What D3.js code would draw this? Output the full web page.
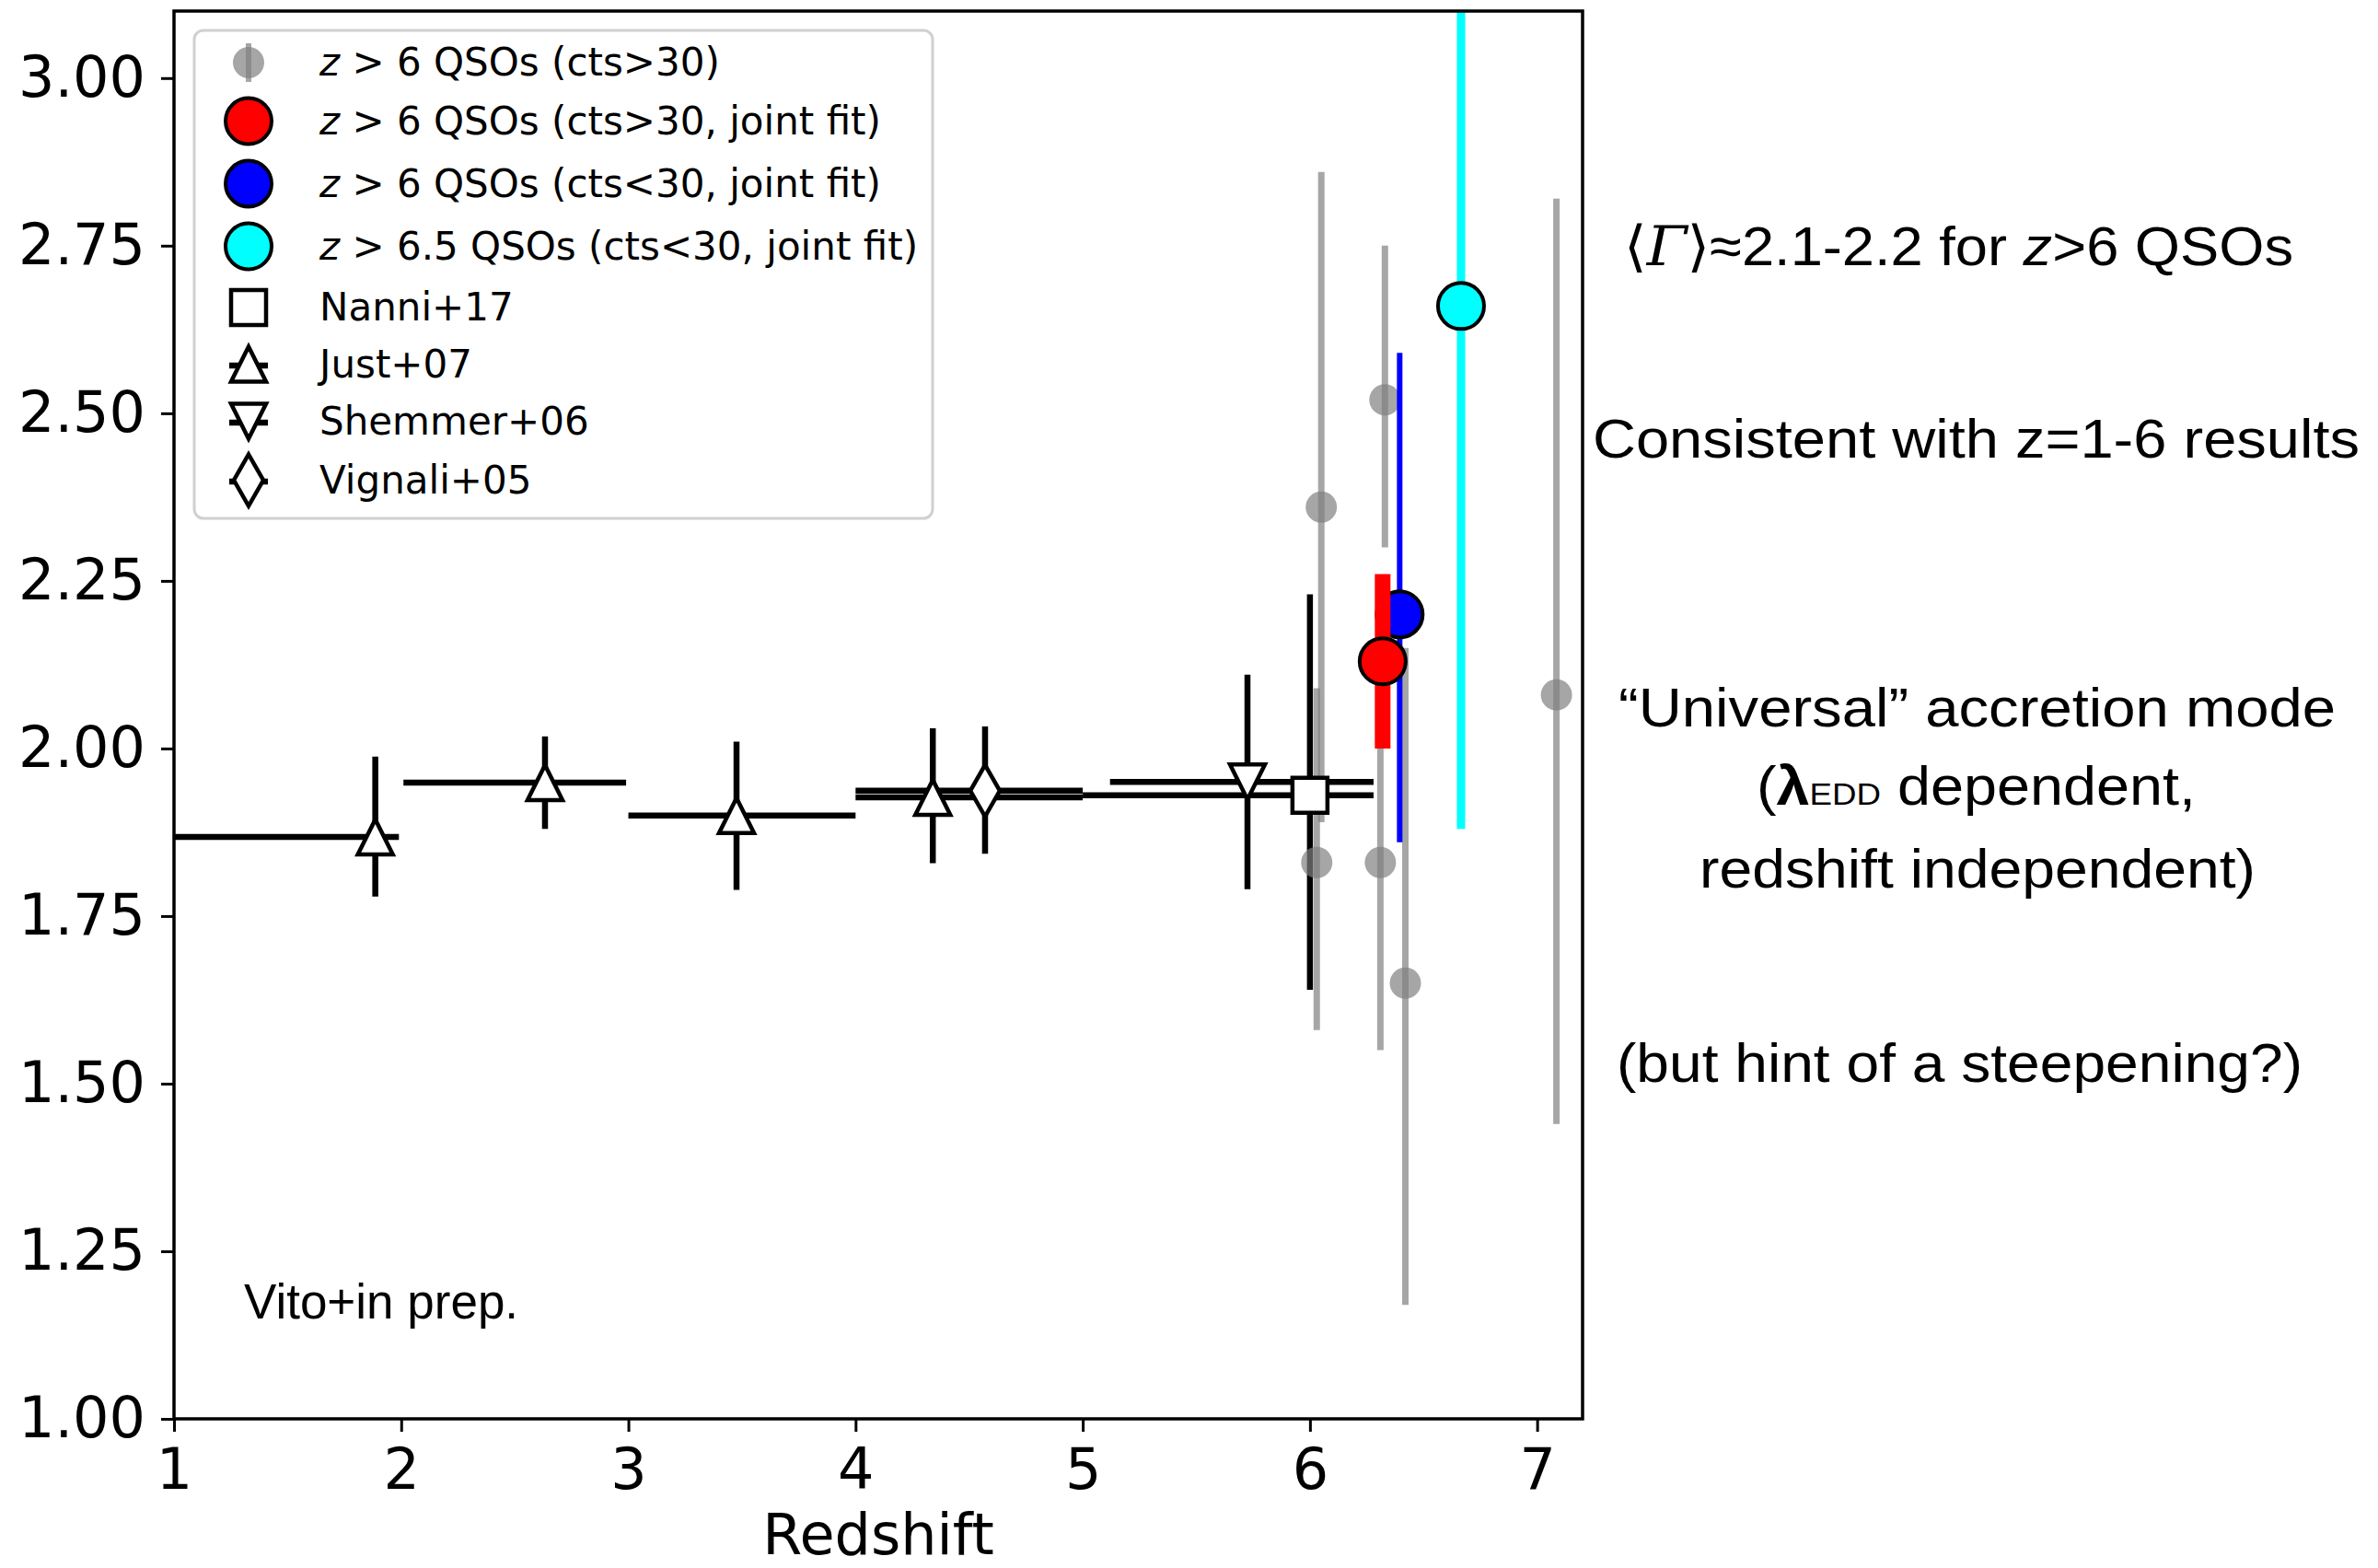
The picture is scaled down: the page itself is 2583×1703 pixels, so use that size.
<!DOCTYPE html>
<html>
<head>
<meta charset="utf-8">
<script src="https://cdn.jsdelivr.net/npm/d3@7"></script>
<style>
  html, body { margin: 0; padding: 0; background: #fff; }
  svg { display: block; }
</style>
</head>
<body>
<svg id="chart" width="2583" height="1703"></svg>
<script>
// ---- Data: photon index Gamma versus redshift ----
// Just+07 (binned, triangles up)
const justZ    = [1.886, 2.633, 3.476, 4.34];
const justG    = [1.868, 1.949, 1.900, 1.927];
const justZlo  = [0.90, 2.01, 3.00, 4.00];
const justZhi  = [1.99, 2.99, 4.00, 5.00];
const justGlo  = [1.779, 1.880, 1.789, 1.829];
const justGhi  = [1.988, 2.018, 2.010, 2.030];

// Shemmer+06 (triangle down)
const shemZ = [5.725], shemG = [1.950], shemZlo = [5.12], shemZhi = [6.28], shemGlo = [1.79], shemGhi = [2.11];
// Vignali+05 (thin diamond)
const vigZ = [4.57], vigG = [1.937], vigZlo = [4.00], vigZhi = [5.00], vigGlo = [1.843], vigGhi = [2.033];
// Nanni+17 (square)
const nanZ = [6.00], nanG = [1.930], nanZlo = [5.00], nanZhi = [6.28], nanGlo = [1.64], nanGhi = [2.23];

// Individual z > 6 QSOs with > 30 counts
const qsoZ   = [6.03, 6.05, 6.31, 6.33, 6.42, 7.085];
const qsoG   = [1.83, 2.36, 1.83, 2.52, 1.65, 2.08];
const qsoGlo = [1.58, 1.89, 1.55, 2.30, 1.17, 1.44];
const qsoGhi = [2.09, 2.86, 2.11, 2.75, 2.15, 2.82];

// Joint fits
const jointNames = ["blue", "red", "cyan"];
const jointZ   = [6.395, 6.32, 6.665];
const jointG   = [2.20, 2.13, 2.66];
const jointGlo = [1.86, 2.00, 1.88];
const jointGhi = [2.59, 2.26, 3.44];

// Axes
const xTicks = [1, 2, 3, 4, 5, 6, 7];
const yTicks = [1.00, 1.25, 1.50, 1.75, 2.00, 2.25, 2.50, 2.75, 3.00];
const xLabel = "Redshift";

// Legend entries
const legendLabels = [
  ["z", " > 6 QSOs (cts>30)"],
  ["z", " > 6 QSOs (cts>30, joint fit)"],
  ["z", " > 6 QSOs (cts<30, joint fit)"],
  ["z", " > 6.5 QSOs (cts<30, joint fit)"],
  [null, "Nanni+17"],
  [null, "Just+07"],
  [null, "Shemmer+06"],
  [null, "Vignali+05"]
];
const legendKinds = ["gray", "red", "blue", "cyan", "square", "tri-up", "tri-down", "diamond"];

// ---- Layout ----
const svg = d3.select("#chart");
const L = 189, R = 1719, T = 12, B = 1541;
const x = d3.scaleLinear().domain([1, 7.2]).range([L, R]);
const y = d3.scaleLinear().domain([1, 3.1]).range([B, T]);

const colors = { red: "#ff0000", blue: "#0000ff", cyan: "#00ffff" };
const barWidth = { red: 17, blue: 6, cyan: 9 };

svg.append("rect").attr("width", 2583).attr("height", 1703).attr("fill", "#fff");

svg.append("defs").append("clipPath").attr("id", "plotClip")
  .append("rect").attr("x", L).attr("y", T).attr("width", R - L).attr("height", B - T);

const plot = svg.append("g").attr("clip-path", "url(#plotClip)");

// marker path builders (centre at 0,0)
function markerPath(kind) {
  switch (kind) {
    case "tri-up":   return "M0,-19L19,19L-19,19Z";
    case "tri-down": return "M0,19L19,-19L-19,-19Z";
    case "square":   return "M-19,-19L19,-19L19,19L-19,19Z";
    case "diamond":  return "M0,-28L16,0L0,28L-16,0Z";
  }
}

// build black literature series
const litSeries = [
  { kind: "tri-up",   z: justZ, g: justG, zlo: justZlo, zhi: justZhi, glo: justGlo, ghi: justGhi },
  { kind: "tri-down", z: shemZ, g: shemG, zlo: shemZlo, zhi: shemZhi, glo: shemGlo, ghi: shemGhi },
  { kind: "diamond",  z: vigZ,  g: vigG,  zlo: vigZlo,  zhi: vigZhi,  glo: vigGlo,  ghi: vigGhi },
  { kind: "square",   z: nanZ,  g: nanG,  zlo: nanZlo,  zhi: nanZhi,  glo: nanGlo,  ghi: nanGhi }
];
const litPoints = litSeries.flatMap(s => s.z.map((z, i) => ({
  kind: s.kind, z, g: s.g[i], zlo: s.zlo[i], zhi: s.zhi[i], glo: s.glo[i], ghi: s.ghi[i]
})));

// 1) black error bars
const litBars = plot.append("g").attr("stroke", "#000").attr("stroke-width", 6.5).attr("fill", "none");
litBars.selectAll("line.h").data(litPoints).join("line")
  .attr("x1", d => x(d.zlo)).attr("x2", d => x(d.zhi))
  .attr("y1", d => y(d.g)).attr("y2", d => y(d.g));
litBars.selectAll("line.v").data(litPoints).join("line").attr("class", "v")
  .attr("x1", d => x(d.z)).attr("x2", d => x(d.z))
  .attr("y1", d => y(d.glo)).attr("y2", d => y(d.ghi));

// 2) gray error bars
const qso = qsoZ.map((z, i) => ({ z, g: qsoG[i], glo: qsoGlo[i], ghi: qsoGhi[i] }));
plot.append("g").selectAll("line").data(qso).join("line")
  .attr("x1", d => x(d.z)).attr("x2", d => x(d.z))
  .attr("y1", d => y(d.glo)).attr("y2", d => y(d.ghi))
  .attr("stroke", "#808080").attr("stroke-opacity", 0.7).attr("stroke-width", 7);

// 3) black-edged open markers
plot.append("g").selectAll("path").data(litPoints).join("path")
  .attr("d", d => markerPath(d.kind))
  .attr("transform", d => `translate(${x(d.z)},${y(d.g)})`)
  .attr("fill", "#fff").attr("stroke", "#000").attr("stroke-width", 4.5)
  .attr("stroke-linejoin", "miter");

// 4) gray markers
plot.append("g").selectAll("circle").data(qso).join("circle")
  .attr("cx", d => x(d.z)).attr("cy", d => y(d.g)).attr("r", 17)
  .attr("fill", "#808080").attr("fill-opacity", 0.7);

// 5) joint-fit points
const joint = jointNames.map((c, i) => ({ c, z: jointZ[i], g: jointG[i], glo: jointGlo[i], ghi: jointGhi[i] }));
joint.forEach(d => {
  plot.append("line")
    .attr("x1", x(d.z)).attr("x2", x(d.z))
    .attr("y1", y(d.glo)).attr("y2", y(d.ghi))
    .attr("stroke", colors[d.c]).attr("stroke-width", barWidth[d.c]);
  plot.append("circle")
    .attr("cx", x(d.z)).attr("cy", y(d.g)).attr("r", 25)
    .attr("fill", colors[d.c]).attr("stroke", "#000").attr("stroke-width", 4);
});

// ---- Axes ----
const axisFont = "DejaVu Sans, sans-serif";
const gx = svg.append("g").attr("transform", `translate(0,${B})`)
  .call(d3.axisBottom(x).tickValues(xTicks).tickSize(14).tickPadding(18).tickFormat(d3.format("d")));
const gy = svg.append("g").attr("transform", `translate(${L},0)`)
  .call(d3.axisLeft(y).tickValues(yTicks).tickSize(14).tickPadding(17).tickFormat(d3.format(".2f")));
[gx, gy].forEach(g => {
  g.select(".domain").remove();
  g.selectAll(".tick line").attr("stroke", "#000").attr("stroke-width", 3);
  g.selectAll(".tick text").attr("font-family", axisFont).attr("font-size", 62).attr("fill", "#000");
});

// frame
svg.append("rect").attr("x", L).attr("y", T).attr("width", R - L).attr("height", B - T)
  .attr("fill", "none").attr("stroke", "#000").attr("stroke-width", 3.5);

// axis title kept fully inside the canvas
svg.append("text").attr("x", (L + R) / 2).attr("y", 1688)
  .attr("text-anchor", "middle").attr("font-family", axisFont).attr("font-size", 62)
  .text(xLabel);

// ---- Legend ----
const legend = svg.append("g");
legend.append("rect").attr("x", 211).attr("y", 33).attr("width", 802).attr("height", 530)
  .attr("rx", 10).attr("fill", "#fff").attr("fill-opacity", 0.8)
  .attr("stroke", "#d0d0d0").attr("stroke-width", 3);

// row centres: rows holding the large joint-fit circles are a little taller
const legRows = [68, 131.5, 199.5, 267.5, 334, 395.5, 457.5, 521.5];
const legMx = 270, legTx = 347;
legendKinds.forEach((kind, i) => {
  const cy = legRows[i];
  const g = legend.append("g").attr("transform", `translate(${legMx},${cy})`);
  if (kind === "gray") {
    g.append("line").attr("y1", -21).attr("y2", 21)
      .attr("stroke", "#808080").attr("stroke-opacity", 0.7).attr("stroke-width", 6);
    g.append("circle").attr("r", 17).attr("fill", "#808080").attr("fill-opacity", 0.7);
  } else if (colors[kind]) {
    g.append("circle").attr("r", 25).attr("fill", colors[kind]).attr("stroke", "#000").attr("stroke-width", 4);
  } else {
    g.append("line").attr("x1", -21).attr("x2", 21).attr("y1", 1.5).attr("y2", 1.5)
      .attr("stroke", "#000").attr("stroke-width", 6.5);
    g.append("path").attr("d", markerPath(kind)).attr("fill", "#fff")
      .attr("stroke", "#000").attr("stroke-width", 4.5);
  }
  const t = legend.append("text").attr("x", legTx).attr("y", cy + 14)
    .attr("font-family", axisFont).attr("font-size", 42).attr("fill", "#000");
  const [ital, rest] = legendLabels[i];
  if (ital) t.append("tspan").attr("font-style", "italic").text(ital);
  t.append("tspan").attr("xml:space", "preserve").text(rest);
});

// ---- Annotations ----
svg.append("text").attr("x", 265).attr("y", 1432)
  .attr("font-family", "Liberation Sans, Arial, sans-serif").attr("font-size", 53)
  .text("Vito+in prep.");

const noteFont = "Liberation Sans, Arial, Helvetica, sans-serif";
function note(xs, ys, width, build) {
  const t = svg.append("text").attr("x", xs).attr("y", ys)
    .attr("font-family", noteFont).attr("font-size", 60).attr("fill", "#000")
    .attr("textLength", width).attr("lengthAdjust", "spacingAndGlyphs");
  build(t);
}
note(1764, 288, 727, t => {
  t.append("tspan").attr("font-family", "DejaVu Serif, serif").text("\u27E8");
  t.append("tspan").attr("font-family", "DejaVu Serif, serif").attr("font-style", "italic").text("\u0393");
  t.append("tspan").attr("font-family", "DejaVu Serif, serif").text("\u27E9");
  t.append("tspan").text("\u22482.1-2.2 for ");
  t.append("tspan").attr("font-style", "italic").text("z");
  t.append("tspan").text(">6 QSOs");
});
note(1730, 497, 833, t => t.text("Consistent with z=1-6 results"));
note(1758, 789, 779, t => t.text("\u201CUniversal\u201D accretion mode"));
note(1908, 874, 477, t => {
  t.append("tspan").text("(");
  t.append("tspan").attr("font-weight", "bold").text("\u03BB");
  t.append("tspan").attr("font-size", 34).text("EDD");
  t.append("tspan").text(" dependent,");
});
note(1846, 964, 604, t => t.text("redshift independent)"));
note(1756, 1175, 745, t => t.text("(but hint of a steepening?)"));
</script>
</body>
</html>
